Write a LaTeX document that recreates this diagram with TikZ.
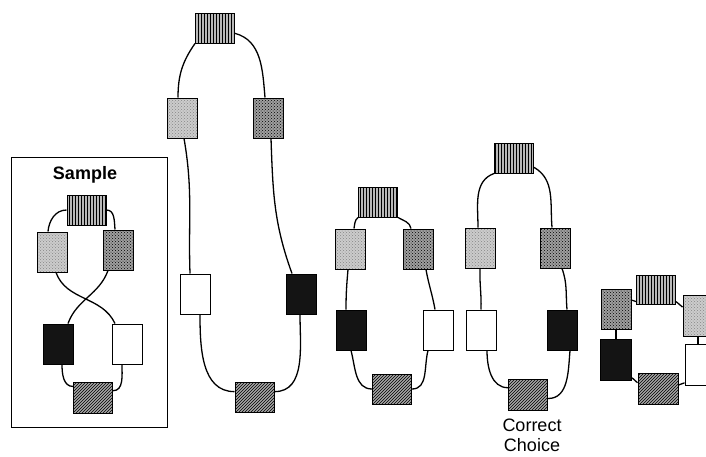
\documentclass[tikz,border=0pt]{standalone}
\usepackage{fontspec}
\setmainfont{Liberation Sans}
\usetikzlibrary{patterns}
\tikzset{
  cell/.style={draw=black, line width=1pt, inner sep=0pt, minimum width=30pt, minimum height=40pt},
  wide/.style={minimum width=39pt, minimum height=30pt},
  stripes/.style={cell, wide, preaction={fill=gray!55}, pattern=vertical lines, pattern color=black},
  stipple/.style={cell, preaction={fill=gray!40}, pattern=crosshatch dots, pattern color=gray!95},
  mesh/.style={cell, preaction={fill=gray!75}, pattern=crosshatch dots, pattern color=black},
  dark/.style={cell, fill=black!92},
  blank/.style={cell, fill=white},
  diag/.style={cell, wide, preaction={fill=gray!70}, pattern=north east lines, pattern color=black},
  link/.style={line width=1.3pt, black},
  frame/.style={draw=black, line width=0.9pt, inner sep=0pt, minimum width=156pt, minimum height=270pt},
  label/.style={font=\fontsize{18}{20}\selectfont, inner sep=0pt, align=center}
}
\begin{document}
\begin{tikzpicture}[x=1pt, y=1pt]
\useasboundingbox[fill=white] (0,0) rectangle (706,-456);
\clip (0,0) rectangle (706,-456);

% ---------- Sample ----------
\node[frame] (box) at (89,-292) {};
\node[label, font=\fontsize{18}{20}\selectfont\bfseries, anchor=base] (samp) at (85,-179) {Sample};
\node[stripes] (s1) at (86.5,-210) {};
\node[stipple] (s2) at (52,-252) {};
\node[mesh]    (s3) at (118,-250) {};
\node[dark]    (s4) at (58,-344) {};
\node[blank]   (s5) at (127,-344) {};
\node[diag, minimum height=31pt] (s6) at (93,-398) {};
\draw[link] (s1.west) to[out=180, in=85] ([xshift=-4pt]s2.north);
\draw[link] (s1.east) to[out=0, in=95] ([xshift=-3pt]s3.north);
\draw[link] ([xshift=4pt]s2.south) to[out=-70, in=115] ([xshift=-12pt]s5.north);
\draw[link] ([xshift=-10pt]s3.south) to[out=-110, in=70] ([xshift=10pt]s4.north);
\draw[link] ([xshift=4pt]s4.south) to[out=-90, in=180] (s6.150);
\draw[link] ([xshift=-5pt]s5.south) to[out=-90, in=0] (s6.20);

% ---------- tall figure ----------
\node[stripes] (t1) at (215,-28) {};
\node[stipple] (t2) at (182,-118) {};
\node[mesh]    (t3) at (268,-118) {};
\node[blank]   (t4) at (195,-294) {};
\node[dark]    (t5) at (301,-294) {};
\node[diag]    (t6) at (254.5,-397) {};
\draw[link] (t1.south west) to[out=-125, in=90] ([xshift=-4pt]t2.north);
\draw[link] (t1.-15) to[out=-15, in=95] ([xshift=-3pt]t3.north);
\draw[link] ([xshift=2pt]t2.south) to[out=-80, in=92] ([xshift=-5pt]t4.north);
\draw[link] ([xshift=3pt]t3.south) to[out=-88, in=110] ([xshift=-9pt]t5.north);
\draw[link] ([xshift=5pt]t4.south) to[out=-90, in=180] (t6.165);
\draw[link] ([xshift=-1pt]t5.south) to[out=-90, in=0] (t6.15);

% ---------- third figure ----------
\node[stripes] (c1) at (378,-202) {};
\node[stipple] (c2) at (350,-249) {};
\node[mesh]    (c3) at (418,-249) {};
\node[dark]    (c4) at (351,-330) {};
\node[blank]   (c5) at (438,-330) {};
\node[diag]    (c6) at (392,-389) {};
\draw[link] (c1.south west) to[out=-140, in=80] ([xshift=4pt]c2.north);
\draw[link] (c1.south east) to[out=-30, in=100] ([xshift=-7pt]c3.north);
\draw[link] ([xshift=-2pt]c2.south) to[out=-95, in=90] ([xshift=-5pt]c4.north);
\draw[link] ([xshift=8pt]c3.south) to[out=-80, in=100] ([xshift=-3pt]c5.north);
\draw[link] (c4.south) to[out=-75, in=180] (c6.west);
\draw[link] ([xshift=-10pt]c5.south) to[out=-105, in=0] (c6.east);

% ---------- correct choice ----------
\node[stripes] (d1) at (514,-158) {};
\node[stipple] (d2) at (480,-248) {};
\node[mesh]    (d3) at (555,-248) {};
\node[blank]   (d4) at (481,-330) {};
\node[dark]    (d5) at (562,-330) {};
\node[diag, minimum height=31pt] (d6) at (528,-395) {};
\draw[link] (d1.south west) to[out=-160, in=90] ([xshift=-2pt]d2.north);
\draw[link] (d1.-25) to[out=-30, in=95] ([xshift=-3pt]d3.north);
\draw[link] (d2.south) to[out=-92, in=88] (d4.north);
\draw[link] ([xshift=7pt]d3.south) to[out=-70, in=95] ([xshift=5pt]d5.north);
\draw[link] ([xshift=6pt]d4.south) to[out=-90, in=180] (d6.160);
\draw[link] ([xshift=8pt]d5.south) to[out=-95, in=0] (d6.-10);
\node[label, anchor=north] (cc) at (532,-419) {Correct\\Choice};

% ---------- fifth figure ----------
\node[stripes, minimum height=29pt] (e1) at (656,-290) {};
\node[mesh]    (e2) at (616,-309) {};
\node[stipple, minimum height=41pt] (e3) at (698,-316) {};
\node[dark, minimum width=31pt, minimum height=41pt] (e4) at (616,-360) {};
\node[blank, minimum height=41pt] (e5) at (700,-365) {};
\node[diag, minimum width=40pt, minimum height=31pt] (e6) at (658,-389) {};
\draw[link] (e2.30) -- (e1.-150);
\draw[link] (e1.-30) -- (e3.150);
\draw[link] (e2.south) -- (e4.north);
\draw[link] (e3.south) -- (e3.south |- e5.north);
\draw[link] (e4.-48) -- (e6.163);
\draw[link] (e5.-131) -- (e6.11);
\end{tikzpicture}
\end{document}
